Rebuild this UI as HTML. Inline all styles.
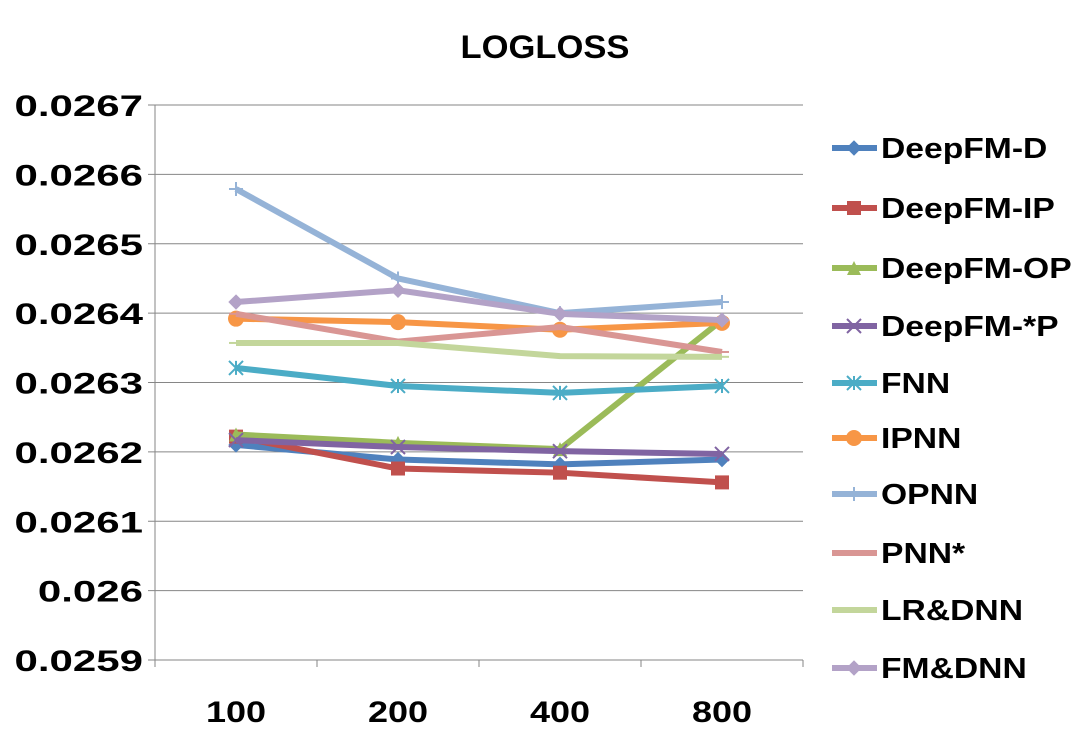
<!DOCTYPE html>
<html><head><meta charset="utf-8"><style>
body{margin:0;background:#fff;font-family:"Liberation Sans",sans-serif;}
svg text{font-family:"Liberation Sans",sans-serif;font-weight:bold;fill:#000;}
</style></head><body>
<svg id="chart" width="1089" height="743" xmlns="http://www.w3.org/2000/svg">
<text id="title" x="545" y="58" font-size="32" text-anchor="middle">LOGLOSS</text>
<g id="grid"></g><g id="axes"></g><g id="series"></g><g id="legend"></g>
</svg>
<script>
const categories=["100","200","400","800"];
const yTicks=[0.0259,0.026,0.0261,0.0262,0.0263,0.0264,0.0265,0.0266,0.0267];
const yTickLabels=["0.0259","0.026","0.0261","0.0262","0.0263","0.0264","0.0265","0.0266","0.0267"];
const seriesNames=["DeepFM-D","DeepFM-IP","DeepFM-OP","DeepFM-*P","FNN","IPNN","OPNN","PNN*","LR&DNN","FM&DNN"];
const deepfmD=[0.02621,0.026189,0.026182,0.026189];
const deepfmIP=[0.026222,0.026176,0.02617,0.026156];
const deepfmOP=[0.026225,0.026213,0.026204,0.02639];
const deepfmStarP=[0.026217,0.026207,0.026201,0.026197];
const fnn=[0.026321,0.026295,0.026285,0.026295];
const ipnn=[0.026392,0.026387,0.026376,0.026386];
const opnn=[0.026579,0.02645,0.0264,0.026416];
const pnnStar=[0.026399,0.026359,0.02638,0.026344];
const lrdnn=[0.026357,0.026357,0.026338,0.026337];
const fmdnn=[0.026416,0.026433,0.026399,0.02639];
const seriesValues=[deepfmD,deepfmIP,deepfmOP,deepfmStarP,fnn,ipnn,opnn,pnnStar,lrdnn,fmdnn];
const colors=["#4F81BD","#C0504D","#9BBB59","#8064A2","#4BACC6","#F79646","#95B3D7","#D99694","#C3D69B","#B3A2C7"];
const markers=["diamond","square","triangle","x","star","circle","plus","dash","dash","diamond"];
const NS="http://www.w3.org/2000/svg";
const L=155,R=803,T=105,B=660,yMin=0.0259,yMax=0.0267;
const xS=i=>L+(i+0.5)*(R-L)/categories.length;
const yS=v=>B-(v-yMin)/(yMax-yMin)*(B-T);
function mk(tag,attrs,parent){const e=document.createElementNS(NS,tag);for(const k in attrs)e.setAttribute(k,attrs[k]);parent.appendChild(e);return e;}
function stretch(t,f){const w=t.getComputedTextLength();t.setAttribute('textLength',w*f);t.setAttribute('lengthAdjust','spacingAndGlyphs');}
const grid=document.getElementById('grid'),axes=document.getElementById('axes'),ser=document.getElementById('series'),leg=document.getElementById('legend');
stretch(document.getElementById('title'),1.08);
yTicks.forEach((t,i)=>{
 const g=mk('line',{x1:L-7,x2:R,y1:yS(t),y2:yS(t),stroke:'#868686','stroke-width':1},grid);
 
 
 const tx=mk('text',{x:143,y:yS(t)+11,'font-size':30,'text-anchor':'end'},axes);tx.textContent=yTickLabels[i];
 
 
 stretch(tx,1.4);
});
const ya=mk('line',{x1:L,x2:L,y1:T,y2:B,stroke:'#868686'},axes);


categories.forEach((c,i)=>{
 const tk=mk('line',{x1:L+(i+1)*(R-L)/4,x2:L+(i+1)*(R-L)/4,y1:B,y2:B+7,stroke:'#868686'},axes);
 
 
 const tx=mk('text',{x:xS(i),y:722,'font-size':30,'text-anchor':'middle'},axes);tx.textContent=c;
 
 
 stretch(tx,1.2);
});
const tk0=mk('line',{x1:L,x2:L,y1:B,y2:B+7,stroke:'#868686'},axes);


function marker(type,x,y,col,parent){
 const s=7;let e;
 if(type==='diamond')e=mk('polygon',{points:`${x},${y-s} ${x+s},${y} ${x},${y+s} ${x-s},${y}`,fill:col,stroke:col},parent);
 else if(type==='square')e=mk('rect',{x:x-s,y:y-s,width:2*s,height:2*s,fill:col},parent);
 else if(type==='triangle')e=mk('polygon',{points:`${x},${y-s} ${x+s},${y+s} ${x-s},${y+s}`,fill:col},parent);
 else if(type==='circle')e=mk('circle',{cx:x,cy:y,r:s+1,fill:col},parent);
 else if(type==='x')e=mk('path',{d:`M${x-s},${y-s}L${x+s},${y+s}M${x-s},${y+s}L${x+s},${y-s}`,stroke:col,'stroke-width':2},parent);
 else if(type==='star')e=mk('path',{d:`M${x-s},${y-s}L${x+s},${y+s}M${x-s},${y+s}L${x+s},${y-s}M${x},${y-s}L${x},${y+s}`,stroke:col,'stroke-width':2},parent);
 else if(type==='plus')e=mk('path',{d:`M${x-s},${y}L${x+s},${y}M${x},${y-s}L${x},${y+s}`,stroke:col,'stroke-width':2},parent);
 else e=mk('path',{d:`M${x-s},${y}L${x+s},${y}`,stroke:col,'stroke-width':2},parent);
 return e;
}
seriesValues.forEach((vals,si)=>{
 const g=mk('g',{},ser);
 
 
 const p=mk('polyline',{points:vals.map((v,i)=>xS(i)+','+yS(v)).join(' '),fill:'none',stroke:colors[si],'stroke-width':6,'stroke-linejoin':'round'},g);
 
 
 vals.forEach((v,i)=>{
  const m=marker(markers[si],xS(i),yS(v),colors[si],g);
  
  
 });
});
const legY=[148,208,268,326,383,438,494,553,610,668];
seriesNames.forEach((n,si)=>{
 const g=mk('g',{},leg);
 
 
 mk('line',{x1:832,x2:877,y1:legY[si],y2:legY[si],stroke:colors[si],'stroke-width':6},g);
 marker(markers[si],854,legY[si],colors[si],g);
 const t=mk('text',{x:881,y:legY[si]+10,'font-size':29},g);t.textContent=n;
 stretch(t,1.16);
});
</script>
</body></html>
